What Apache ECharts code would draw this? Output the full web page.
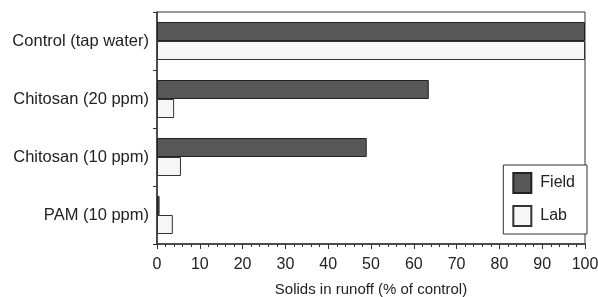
<!DOCTYPE html>
<html><head><meta charset="utf-8">
<script src="https://cdn.jsdelivr.net/npm/echarts@6/dist/echarts.min.js"></script>
<style>html,body{margin:0;padding:0;background:#fff}#c{width:598px;height:297px}</style>
</head><body><div id="c"></div>
<script>
const categories = ['Control (tap water)', 'Chitosan (20 ppm)', 'Chitosan (10 ppm)', 'PAM (10 ppm)'];
const fieldValues = [100, 63.5, 49, 0.6];
const labValues = [100, 4, 5.6, 3.7];
const xTicks = {min: 0, max: 100, interval: 10};
const axisTitle = 'Solids in runoff (% of control)';

const chart = echarts.init(document.getElementById('c'));
const font = 'Liberation Sans, Arial, sans-serif';
chart.setOption({
  animation: false,
  backgroundColor: '#fff',
  grid: {left: 157, right: 13, top: 12, bottom: 53, show: true, borderColor: '#333', borderWidth: 1,
         backgroundColor: 'transparent', containLabel: false, outerBoundsMode: 'none'},
  legend: {
    orient: 'vertical', right: 11, top: 165,
    itemWidth: 18, itemHeight: 20, itemGap: 11,
    padding: [7, 12, 7, 9],
    icon: 'rect',
    borderColor: '#333', borderWidth: 1, backgroundColor: '#fff',
    textStyle: {fontFamily: font, fontSize: 16, color: '#222', padding: [0, 0, 0, 4]},
    data: ['Field', 'Lab']
  },
  xAxis: {
    type: 'value', min: xTicks.min, max: xTicks.max, interval: xTicks.interval,
    axisLine: {show: true, lineStyle: {color: '#333', width: 1.5}},
    axisTick: {show: true, length: 5, lineStyle: {color: '#333'}},
    minorTick: {show: true, splitNumber: 5, length: 3, lineStyle: {color: '#333'}},
    splitLine: {show: false},
    axisLabel: {fontFamily: font, fontSize: 16, color: '#222', margin: 13},
    name: axisTitle, nameLocation: 'middle', nameGap: 38,
    nameTextStyle: {fontFamily: font, fontSize: 15, color: '#222'}
  },
  yAxis: {
    type: 'category', data: categories, inverse: true,
    axisLine: {show: true, lineStyle: {color: '#333', width: 1.5}},
    axisTick: {show: true, length: 4, lineStyle: {color: '#333'}},
    axisLabel: {fontFamily: font, fontSize: 16.5, color: '#222', margin: 8}
  },
  series: [
    {name: 'Field', type: 'bar', data: fieldValues, barWidth: 19, barGap: '0%',
     itemStyle: {color: '#575757', borderColor: '#222', borderWidth: 1}},
    {name: 'Lab', type: 'bar', data: labValues, barWidth: 19,
     itemStyle: {color: '#f6f6f6', borderColor: '#333', borderWidth: 1}}
  ]
});
</script></body></html>
